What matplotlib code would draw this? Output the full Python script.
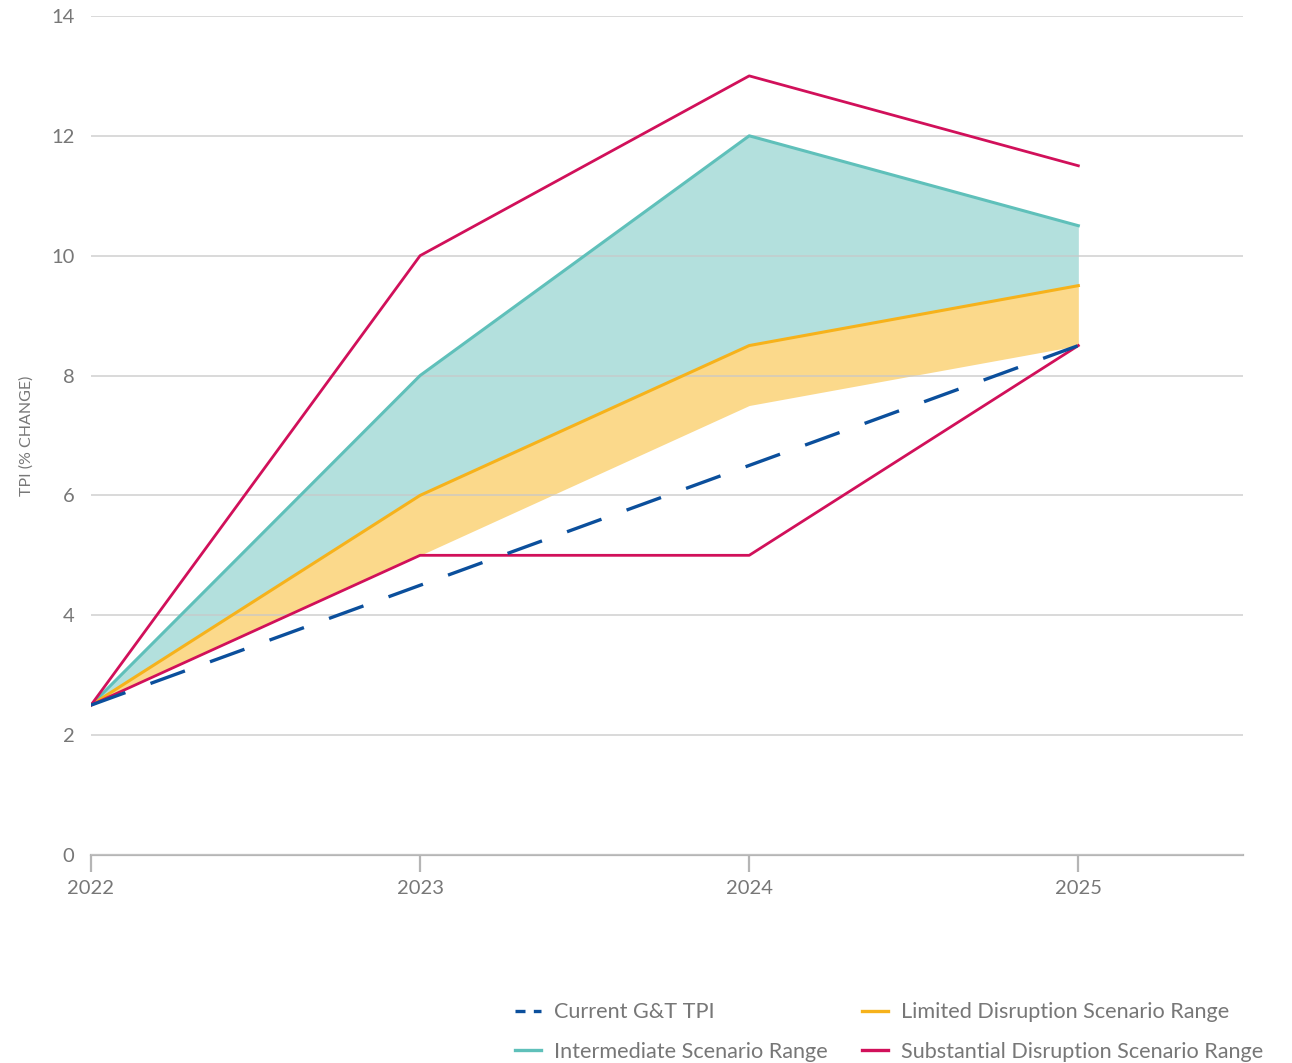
import numpy as np
import matplotlib.pyplot as plt
from matplotlib.lines import Line2D

plt.rcParams['font.family'] = ['Lato', 'DejaVu Sans']

years = [2022, 2023, 2024, 2025]
current_tpi = [2.5, 4.5, 6.5, 8.5]
limited_low = [2.5, 5.0, 7.5, 8.5]
limited_high = [2.5, 6.0, 8.5, 9.5]
intermediate_high = [2.5, 8.0, 12.0, 10.5]
substantial_low = [2.5, 5.0, 5.0, 8.5]
substantial_high = [2.5, 10.0, 13.0, 11.5]

blue = '#0b4f9c'
teal = '#5fc0ba'
teal_fill = '#b3e0dd'
orange = '#f6b21b'
orange_fill = '#fbd98b'
crimson = '#d1105a'
gray = '#777777'

fig = plt.figure(figsize=(12.92, 10.63), dpi=100)
ax = fig.add_axes([0.0704, 0.1957, 0.8916, 0.7893])

ax.fill_between(years, limited_high, intermediate_high, color=teal_fill, lw=0, zorder=1)
ax.fill_between(years, limited_low, limited_high, color=orange_fill, lw=0, zorder=1)
ax.grid(axis='y', color='#c8c8c8', lw=1.2, alpha=0.8, zorder=2)
ax.set_axisbelow(False)

ax.plot(years, intermediate_high, color=teal, lw=2.2, zorder=3)
ax.plot(years, limited_high, color=orange, lw=2.2, zorder=3)
ax.plot(years, substantial_high, color=crimson, lw=2.0, zorder=4)
ax.plot(years, substantial_low, color=crimson, lw=2.0, zorder=4)
ax.plot(years, current_tpi, color=blue, lw=2.4, dashes=(11, 8), zorder=5)

ax.set_xlim(2022, 2025.5)
ax.set_ylim(0, 14)
ax.set_xticks(years)
ax.set_yticks(np.arange(0, 15, 2))
for s in ['top', 'right', 'left']:
    ax.spines[s].set_visible(False)
ax.spines['bottom'].set_color('#b5b5b5')
ax.spines['bottom'].set_linewidth(1.6)
ax.tick_params(axis='x', colors='#b5b5b5', labelcolor=gray, length=12, width=1.6,
               labelsize=14.5, pad=6)
ax.tick_params(axis='y', length=0, labelcolor=gray, labelsize=14.5, pad=12)
ax.set_ylabel('TPI (% CHANGE)', color=gray, fontsize=11.5)
ax.yaxis.set_label_coords(-0.05, 0.5)

handles = [
    Line2D([], [], color=blue, lw=2.4, dashes=(3, 2.5)),
    Line2D([], [], color=teal, lw=2.4),
    Line2D([], [], color=orange, lw=2.4),
    Line2D([], [], color=crimson, lw=2.4),
]
labels = ['Current G&T TPI', 'Intermediate Scenario Range',
          'Limited Disruption Scenario Range', 'Substantial Disruption Scenario Range']
leg = fig.legend(handles, labels, ncol=2, loc='lower left', bbox_to_anchor=(0.3986, 0.001),
                 frameon=False, fontsize=15.6, handlelength=1.2, handletextpad=0.6,
                 columnspacing=1.6, labelspacing=0.9, borderpad=0, borderaxespad=0)
for t in leg.get_texts():
    t.set_color(gray)

fig.savefig('out.png', dpi=100)
